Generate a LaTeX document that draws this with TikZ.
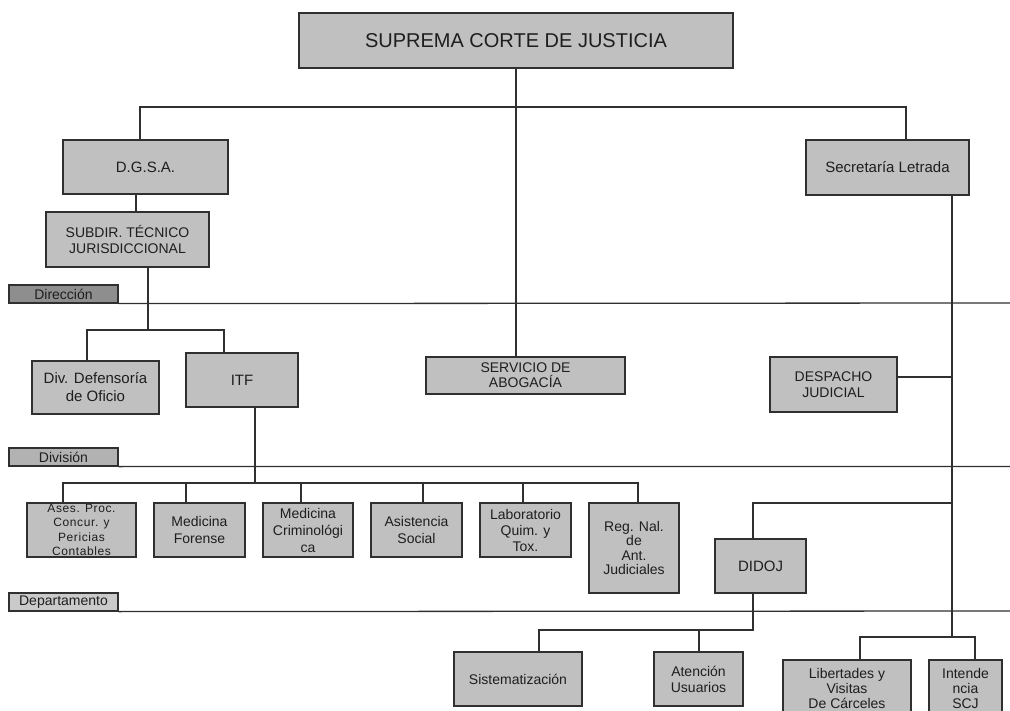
\documentclass[tikz,border=0pt]{standalone}
\usepackage{fontspec}
\setmainfont{Liberation Sans}
\newcommand\myfs[2]{\fontsize{#1}{#2}\selectfont}
\definecolor{boxc}{HTML}{C0C0C0}
\definecolor{linec}{HTML}{303030}
\definecolor{txtc}{HTML}{1E1E1E}
\definecolor{dirc}{HTML}{8E8E8E}
\definecolor{divc}{HTML}{B2B2B2}
\definecolor{depc}{HTML}{CACACA}
\tikzset{
  box/.style={draw=linec, fill=boxc, line width=1.3pt, inner sep=0pt, align=center, text=txtc},
  lvl/.style={draw=linec, line width=1.2pt, inner sep=0pt, minimum width=109pt, minimum height=18pt, text=txtc, font=\myfs{14}{16}},
  conn/.style={draw=linec, line width=1.3pt},
}
\begin{document}
\begin{tikzpicture}[x=1pt, y=-1pt]
\clip (0,0) rectangle (1010,711);
\fill[white] (0,0) rectangle (1010,711);

% level labels and lines
\node[lvl, fill=dirc] (dir) at (63.5,294) {Dirección};
\node[lvl, fill=divc] (div) at (63.5,457) {División};
\node[lvl, fill=depc] (dep) at (63.5,602) {Departamento};
\coordinate (dirE) at (1010,303);
\coordinate (divE) at (1010,466.5);
\coordinate (depE) at (1010,611);
\draw[conn] (dir.south east) -- (dirE);
\draw[conn] (div.south east) -- (divE);
\draw[conn] (dep.south east) -- (depE);

% boxes
\node[box, minimum width=434pt, minimum height=55pt, font=\myfs{20}{24}] (sup) at (516,40.5) {SUPREMA CORTE DE JUSTICIA};
\node[box, minimum width=165pt, minimum height=54pt, font=\myfs{15}{17}] (dgsa) at (145.5,167) {D.G.S.A.};
\node[box, minimum width=163pt, minimum height=55pt, font=\myfs{15}{17}] (sec) at (887.5,167.5) {Secretaría Letrada};
\node[box, minimum width=163pt, minimum height=55pt, font=\myfs{14}{16}] (subdir) at (127.5,239.5) {SUBDIR. TÉCNICO\\JURISDICCIONAL};
\node[box, minimum width=127pt, minimum height=53pt, font=\myfs{15}{18}] (defen) at (95.5,387.5) {Div. Defensoría\\de Oficio};
\node[box, minimum width=112pt, minimum height=54pt, font=\myfs{15}{17}] (itf) at (242,380) {ITF};
\node[box, minimum width=199pt, minimum height=37pt, font=\myfs{14}{15}] (serv) at (525.5,375.5) {SERVICIO DE\\ABOGACÍA};
\node[box, minimum width=127pt, minimum height=55pt, font=\myfs{14}{16}] (desp) at (833.5,384.5) {DESPACHO\\JUDICIAL};

\node[box, minimum width=109pt, minimum height=54pt, font=\myfs{12}{14.3}] (ases) at (81.5,530) {\addfontfeature{LetterSpace=5}Ases. Proc.\\\addfontfeature{LetterSpace=5}Concur. y\\\addfontfeature{LetterSpace=5}Pericias\\\addfontfeature{LetterSpace=5}Contables};
\node[box, minimum width=91pt, minimum height=54pt, font=\myfs{14}{17}] (medfor) at (199.5,530) {Medicina\\Forense};
\node[box, minimum width=90pt, minimum height=54pt, font=\myfs{14}{17}] (medcrim) at (308,530) {Medicina\\Criminológi\\ca};
\node[box, minimum width=91pt, minimum height=54pt, font=\myfs{14}{17}] (asis) at (416.5,530) {Asistencia\\Social};
\node[box, minimum width=91pt, minimum height=54pt, font=\myfs{14}{16}] (lab) at (525.5,530) {Laboratorio\\Quim. y\\Tox.};
\node[box, minimum width=90pt, minimum height=90pt, font=\myfs{14}{14.5}] (reg) at (634,548) {Reg. Nal.\\de\\Ant.\\Judiciales};
\node[box, minimum width=91pt, minimum height=54pt, font=\myfs{15}{17}] (didoj) at (760.5,566) {DIDOJ};
\node[box, minimum width=128pt, minimum height=54pt, font=\myfs{14}{16}] (sist) at (518,679) {Sistematización};
\node[box, minimum width=89pt, minimum height=54pt, font=\myfs{14}{16}] (aten) at (698.5,679) {Atención\\Usuarios};
\node[box, minimum width=128pt, minimum height=56pt, font=\myfs{14}{15}] (lib) at (847,688) {Libertades y\\Visitas\\De Cárceles};
\node[box, minimum width=73pt, minimum height=56pt, font=\myfs{14}{15}] (intend) at (965.5,688) {Intende\\ncia\\SCJ};

% connectors
\coordinate (bL) at (140,107);
\coordinate (bR) at (906,107);
\draw[conn] (dgsa.north -| bL) -- (bL) -- (bR) -- (sec.north -| bR);
\draw[conn] (sup.south) -- (serv.north -| sup.south);

\coordinate (xA) at (136,200);
\draw[conn] (dgsa.south -| xA) -- (subdir.north -| xA);

\coordinate (s1) at (148,330);
\coordinate (s1L) at (87,330);
\coordinate (s1R) at (224,330);
\draw[conn] (subdir.south -| s1) -- (s1);
\draw[conn] (defen.north -| s1L) -- (s1L) -- (s1R) -- (itf.north -| s1R);

\coordinate (t) at (255,483);
\coordinate (t1) at (63,483);
\coordinate (t2) at (186,483);
\coordinate (t3) at (301,483);
\coordinate (t4) at (423,483);
\coordinate (t5) at (523,483);
\coordinate (t6) at (638,483);
\draw[conn] (itf.south -| t) -- (t);
\draw[conn] (ases.north -| t1) -- (t1) -- (t6) -- (reg.north -| t6);
\draw[conn] (t2) -- (medfor.north -| t2);
\draw[conn] (t3) -- (medcrim.north -| t3);
\draw[conn] (t4) -- (asis.north -| t4);
\draw[conn] (t5) -- (lab.north -| t5);

\coordinate (e) at (952,637);
\coordinate (eL) at (860,637);
\coordinate (eR) at (975,637);
\draw[conn] (sec.south -| e) -- (e);
\draw[conn] (lib.north -| eL) -- (eL) -- (eR) -- (intend.north -| eR);

\coordinate (dj) at (952,377);
\draw[conn] (desp.east |- dj) -- (dj);

\coordinate (dd) at (952,503);
\coordinate (ddL) at (753,503);
\draw[conn] (dd) -- (ddL) -- (didoj.north -| ddL);

\coordinate (d2) at (753,630);
\coordinate (d2L) at (539,630);
\coordinate (d2M) at (699,630);
\draw[conn] (didoj.south -| d2) -- (d2) -- (d2L) -- (sist.north -| d2L);
\draw[conn] (d2M) -- (aten.north -| d2M);
\end{tikzpicture}
\end{document}
